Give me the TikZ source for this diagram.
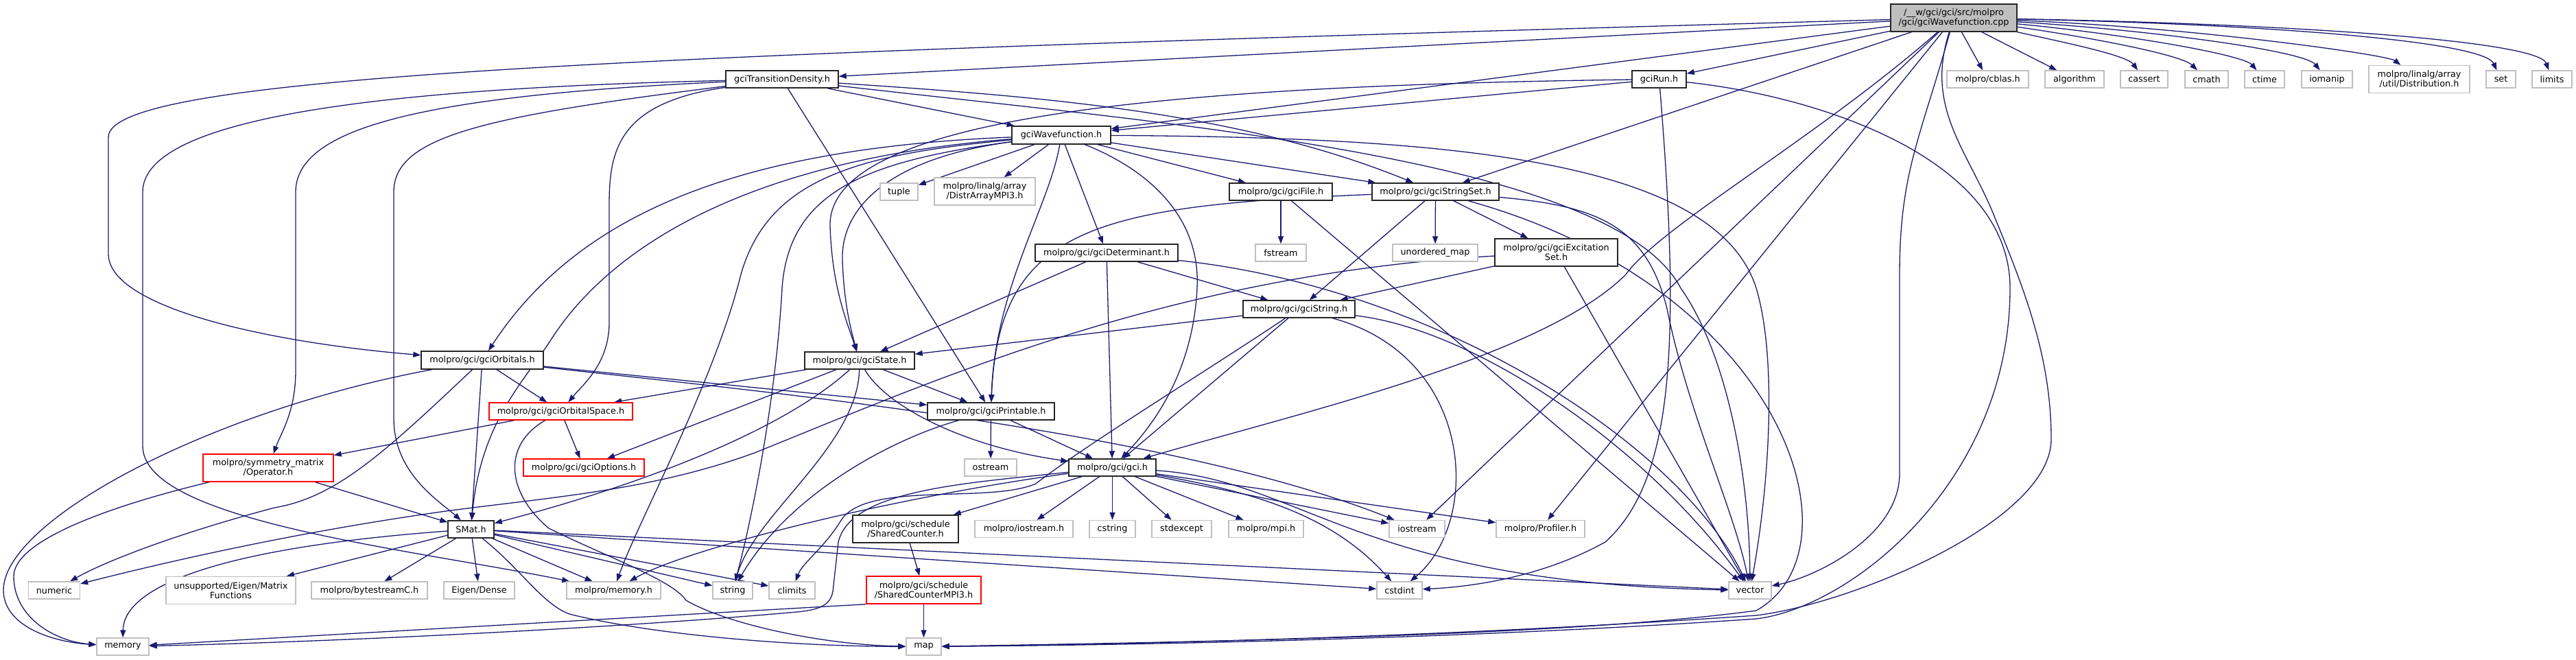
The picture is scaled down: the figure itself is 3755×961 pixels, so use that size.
\documentclass[tikz,border=0pt]{standalone}
\usepackage{fontspec}
\setmainfont{DejaVu Sans}
\usetikzlibrary{arrows.meta,backgrounds}
\definecolor{edgeblue}{HTML}{191970}
\definecolor{grey75}{HTML}{BFBFBF}
\definecolor{grey25}{HTML}{262626}
\begin{document}
\begin{tikzpicture}[x=1pt,y=-1pt,
  e/.style={draw=edgeblue, line width=1.3pt, -{Triangle[length=11pt,width=8pt]}},
  base/.style={rectangle, inner sep=0pt, align=center, font=\fontsize{12.8}{14.3}\selectfont, line width=1.4pt, fill=white},
  nb/.style={base, draw=grey25},
  ng/.style={base, draw=grey75},
  nr/.style={base, draw=red},
  nroot/.style={base, draw=grey25, fill=grey75},
  wh/.style 2 args={minimum width=#1pt, minimum height=#2pt}]
\useasboundingbox (0,0) rectangle (3755,961);
% ---------------- nodes
\node[nroot, wh={184}{40}] (R) at (2848,26) {/\_\_w/gci/gci/src/molpro\\/gci/gciWavefunction.cpp};
\node[nb, wh={164}{25}] (TD) at (1140,115.5) {gciTransitionDensity.h};
\node[nb, wh={79}{25}] (Run) at (2418.5,115.5) {gciRun.h};
\node[nb, wh={144}{26}] (WF) at (1547,197) {gciWavefunction.h};
\node[ng, wh={119}{25}] (cblas) at (2897.5,115.5) {molpro/cblas.h};
\node[ng, wh={86}{25}] (algorithm) at (3024,115.5) {algorithm};
\node[ng, wh={69}{25}] (cassert) at (3125.5,115.5) {cassert};
\node[ng, wh={63}{25}] (cmath) at (3216.5,115.5) {cmath};
\node[ng, wh={58}{25}] (ctime) at (3301,115.5) {ctime};
\node[ng, wh={74}{25}] (iomanip) at (3392,115.5) {iomanip};
\node[ng, wh={147}{40}] (dist) at (3526.5,115.5) {molpro/linalg/array\\/util/Distribution.h};
\node[ng, wh={43}{25}] (set) at (3645.5,115.5) {set};
\node[ng, wh={58}{25}] (limits) at (3720,115.5) {limits};
\node[ng, wh={55}{25}] (tuple) at (1310.5,279.5) {tuple};
\node[ng, wh={147}{40}] (distr) at (1435.5,279) {molpro/linalg/array\\/DistrArrayMPI3.h};
\node[nb, wh={150}{25}] (file) at (1867,279.5) {molpro/gci/gciFile.h};
\node[nb, wh={185}{25}] (sset) at (2092.5,279.5) {molpro/gci/gciStringSet.h};
\node[ng, wh={74}{25}] (fstream) at (1867,368.5) {fstream};
\node[ng, wh={124}{25}] (umap) at (2092,368.5) {unordered\_map};
\node[nb, wh={179}{40}] (exc) at (2268.5,368) {molpro/gci/gciExcitation\\Set.h};
\node[nb, wh={208}{25}] (det) at (1613,368.5) {molpro/gci/gciDeterminant.h};
\node[nb, wh={163}{25}] (str) at (1893.5,450.5) {molpro/gci/gciString.h};
\node[nb, wh={178}{26}] (orb) at (703,525) {molpro/gci/gciOrbitals.h};
\node[nb, wh={160}{25}] (state) at (1253,525.5) {molpro/gci/gciState.h};
\node[nr, wh={209}{25}] (ospace) at (817.5,599.5) {molpro/gci/gciOrbitalSpace.h};
\node[nb, wh={185}{25}] (print) at (1444.5,599.5) {molpro/gci/gciPrintable.h};
\node[nr, wh={176}{25}] (opts) at (851,681.5) {molpro/gci/gciOptions.h};
\node[nr, wh={190}{40}] (oper) at (391,682) {molpro/symmetry\_matrix\\/Operator.h};
\node[nb, wh={127}{25}] (gci) at (1621.5,681.5) {molpro/gci/gci.h};
\node[ng, wh={76}{25}] (ostream) at (1444,681.5) {ostream};
\node[nb, wh={67}{25}] (smat) at (686.5,771.5) {SMat.h};
\node[nb, wh={154}{40}] (sc) at (1320,771) {molpro/gci/schedule\\/SharedCounter.h};
\node[ng, wh={143}{25}] (mios) at (1492.5,771) {molpro/iostream.h};
\node[ng, wh={67}{25}] (cstring) at (1621.5,771) {cstring};
\node[ng, wh={87}{25}] (stdexcept) at (1722.5,771) {stdexcept};
\node[ng, wh={109}{25}] (mpi) at (1845.5,771) {molpro/mpi.h};
\node[ng, wh={81}{25}] (iostream) at (2065.5,771) {iostream};
\node[ng, wh={129}{25}] (prof) at (2245.5,771) {molpro/Profiler.h};
\node[ng, wh={75}{25}] (numeric) at (79,860.5) {numeric};
\node[ng, wh={189}{40}] (unsup) at (336.5,860.5) {unsupported/Eigen/Matrix\\Functions};
\node[ng, wh={169}{25}] (bytes) at (538.5,860.5) {molpro/bytestreamC.h};
\node[ng, wh={103}{25}] (eigen) at (698.5,860.5) {Eigen/Dense};
\node[ng, wh={137}{25}] (mmem) at (894.5,860.5) {molpro/memory.h};
\node[ng, wh={58}{25}] (string) at (1068,860.5) {string};
\node[ng, wh={67}{25}] (climits) at (1154.5,860.5) {climits};
\node[nr, wh={167}{40}] (scmpi) at (1346.5,860) {molpro/gci/schedule\\/SharedCounterMPI3.h};
\node[ng, wh={66}{25}] (cstdint) at (2040,860.5) {cstdint};
\node[ng, wh={62}{25}] (vector) at (2551,860.5) {vector};
\node[ng, wh={76}{25}] (memory) at (179,942.5) {memory};
\node[ng, wh={51}{25}] (map) at (1346.5,942.5) {map};
\begin{scope}[on background layer]
% ---------------- edges from root
\draw[e] (R) -- (TD);
\draw[e] (R) -- (Run);
\draw[e] (R) -- (WF);
\draw[e] (R) -- (cblas);
\draw[e] (R) -- (algorithm);
\draw[e] (R) .. controls (3000,60) and (3100,80) .. (cassert);
\draw[e] (R) .. controls (3050,55) and (3180,80) .. (cmath);
\draw[e] (R) .. controls (3100,50) and (3270,80) .. (ctime);
\draw[e] (R) .. controls (3150,45) and (3360,75) .. (iomanip);
\draw[e] (R) .. controls (3200,40) and (3480,80) .. (dist);
\draw[e] (R) .. controls (3300,35) and (3620,60) .. (set);
\draw[e] (R) .. controls (3350,35) and (3700,60) .. (limits);
\draw[e] (R) -- (sset);
\draw[e] (R) .. controls (900,80) and (158,110) .. (158,200) -- (158,370) .. controls (158,450) and (400,500) .. (orb);
\draw[e] (R) .. controls (2650,200) and (2420,330) .. (2370,400) .. controls (2250,520) and (1900,600) .. (gci);
\draw[e] (R) -- (iostream);
\draw[e] (R) -- (prof);
\draw[e] (R) .. controls (2800,200) and (2769,250) .. (2769,400) -- (2769,690) .. controls (2769,780) and (2650,840) .. (vector);
\draw[e] (R) .. controls (2805,160) and (2870,220) .. (2909,320) .. controls (2950,420) and (2990,520) .. (2990,640) .. controls (2990,760) and (2700,880) .. (2560,897) .. controls (2300,915) and (1900,936) .. (map);
% ---------------- gciRun
\draw[e] (Run) -- (WF);
\draw[e] (Run) .. controls (1700,125) and (1205,170) .. (1210,330) .. controls (1213,420) and (1235,470) .. (state);
\draw[e] (Run) .. controls (2450,500) and (2440,700) .. (2340,790) .. controls (2250,840) and (2150,855) .. (cstdint);
\draw[e] (Run) .. controls (2650,140) and (2930,230) .. (2930,420) .. controls (2930,700) and (2700,885) .. (2560,902) .. controls (2300,920) and (1900,938) .. (map);
% ---------------- gciTransitionDensity
\draw[e] (TD) -- (WF);
\draw[e] (TD) .. controls (1500,140) and (1800,160) .. (sset);
\draw[e] (TD) -- (print);
\draw[e] (TD) .. controls (900,150) and (888,220) .. (888,300) -- (888,470) .. controls (888,530) and (850,560) .. (ospace);
\draw[e] (TD) .. controls (600,140) and (431,190) .. (431,280) -- (431,540) .. controls (431,600) and (410,630) .. (oper);
\draw[e] (TD) .. controls (500,130) and (208,180) .. (208,280) -- (208,650) .. controls (208,760) and (600,800) .. (mmem);
\draw[e] (TD) .. controls (700,170) and (574,200) .. (574,280) -- (574,610) .. controls (574,690) and (640,730) .. (smat);
\draw[e] (TD) .. controls (1700,180) and (2350,230) .. (2450,420) .. controls (2520,520) and (2550,700) .. (vector);
% ---------------- gciWavefunction.h
\draw[e] (WF) -- (tuple);
\draw[e] (WF) -- (distr);
\draw[e] (WF) -- (file);
\draw[e] (WF) -- (sset);
\draw[e] (WF) -- (det);
\draw[e] (WF) .. controls (1530,300) and (1450,420) .. (print);
\draw[e] (WF) .. controls (1680,250) and (1750,320) .. (1745,420) .. controls (1740,520) and (1700,600) .. (gci);
\draw[e] (WF) .. controls (1100,215) and (850,300) .. (orb);
\draw[e] (WF) .. controls (1000,240) and (850,420) .. (800,500) .. controls (760,560) and (700,620) .. (smat);
\draw[e] (WF) .. controls (1250,225) and (1120,260) .. (1080,400) .. controls (1040,560) and (930,760) .. (mmem);
\draw[e] (WF) .. controls (1260,235) and (1150,280) .. (1140,420) .. controls (1130,600) and (1090,780) .. (string);
\draw[e] (WF) .. controls (1300,230) and (1225,300) .. (1228,380) .. controls (1230,440) and (1240,480) .. (state);
\draw[e] (WF) .. controls (2100,200) and (2500,230) .. (2560,420) .. controls (2590,520) and (2580,700) .. (vector);
% ---------------- gciFile, gciStringSet, gciExcitationSet
\draw[e] (file) -- (fstream);
\draw[e] (file) -- (vector);
\draw[e] (sset) .. controls (1600,300) and (1455,330) .. (print);
\draw[e] (sset) -- (str);
\draw[e] (sset) -- (umap);
\draw[e] (sset) -- (exc);
\draw[e] (sset) .. controls (2330,300) and (2400,330) .. (2430,450) .. controls (2460,600) and (2530,750) .. (vector);
\draw[e] (sset) .. controls (2600,420) and (2720,800) .. (2560,890) .. controls (2300,925) and (1800,935) .. (map);
\draw[e] (exc) -- (str);
\draw[e] (exc) -- (vector);
\draw[e] (exc) .. controls (1700,400) and (1350,560) .. (1100,660) .. controls (950,715) and (800,725) .. (650,745) .. controls (400,780) and (200,830) .. (numeric);
% ---------------- gciDeterminant, gciString
\draw[e] (det) -- (state);
\draw[e] (det) -- (gci);
\draw[e] (det) -- (str);
\draw[e] (det) .. controls (2100,420) and (2450,650) .. (vector);
\draw[e] (str) -- (state);
\draw[e] (str) -- (gci);
\draw[e] (str) .. controls (1760,540) and (1580,650) .. (1510,705) .. controls (1440,735) and (1260,700) .. (1225,760) .. controls (1200,800) and (1170,820) .. (climits);
\draw[e] (str) .. controls (2150,520) and (2160,760) .. (cstdint);
\draw[e] (str) .. controls (2150,480) and (2400,650) .. (vector);
% ---------------- gciOrbitals
\draw[e] (orb) -- (ospace);
\draw[e] (orb) -- (smat);
\draw[e] (orb) .. controls (560,660) and (490,725) .. (400,740) .. controls (250,780) and (150,820) .. (numeric);
\draw[e] (orb) .. controls (300,600) and (5,760) .. (5,860) .. controls (5,910) and (70,935) .. (memory);
\draw[e] (orb) -- (print);
\draw[e] (orb) .. controls (1100,570) and (1700,625) .. (iostream);
% ---------------- gciState
\draw[e] (state) -- (ospace);
\draw[e] (state) -- (opts);
\draw[e] (state) .. controls (1150,620) and (960,700) .. (smat);
\draw[e] (state) .. controls (1250,650) and (1100,750) .. (string);
\draw[e] (state) -- (print);
\draw[e] (state) .. controls (1290,590) and (1400,650) .. (gci);
% ---------------- gciOrbitalSpace, Operator, Printable
\draw[e] (ospace) -- (opts);
\draw[e] (ospace) -- (oper);
\draw[e] (ospace) .. controls (730,650) and (740,720) .. (800,770) .. controls (880,810) and (980,845) .. (1000,875) .. controls (1060,910) and (1200,940) .. (map);
\draw[e] (oper) -- (smat);
\draw[e] (oper) .. controls (150,740) and (20,790) .. (20,840) .. controls (20,900) and (80,935) .. (memory);
\draw[e] (print) -- (ostream);
\draw[e] (print) -- (gci);
\draw[e] (print) .. controls (1300,640) and (1150,720) .. (string);
% ---------------- gci.h
\draw[e] (gci) -- (mios);
\draw[e] (gci) -- (cstring);
\draw[e] (gci) -- (stdexcept);
\draw[e] (gci) -- (mpi);
\draw[e] (gci) -- (iostream);
\draw[e] (gci) .. controls (1850,720) and (1950,760) .. (cstdint);
\draw[e] (gci) .. controls (1900,700) and (1980,850) .. (vector);
\draw[e] (gci) -- (prof);
\draw[e] (gci) .. controls (1300,725) and (1000,800) .. (mmem);
\draw[e] (gci) .. controls (1400,705) and (1240,715) .. (1222,790) -- (1214,862) .. controls (1210,885) and (1190,890) .. (1150,893) .. controls (900,915) and (500,935) .. (memory);
\draw[e] (gci) -- (sc);
% ---------------- SMat.h
\draw[e] (smat) .. controls (300,800) and (180,860) .. (memory);
\draw[e] (smat) -- (unsup);
\draw[e] (smat) -- (bytes);
\draw[e] (smat) -- (eigen);
\draw[e] (smat) -- (mmem);
\draw[e] (smat) -- (string);
\draw[e] (smat) -- (climits);
\draw[e] (smat) .. controls (760,830) and (790,880) .. (830,895) .. controls (950,925) and (1150,942) .. (map);
\draw[e] (smat) -- (vector);
\draw[e] (smat) -- (cstdint);
% ---------------- schedule
\draw[e] (sc) -- (scmpi);
\draw[e] (scmpi) -- (map);
\draw[e] (scmpi.south west) -- (memory);
\end{scope}
\end{tikzpicture}
\end{document}
